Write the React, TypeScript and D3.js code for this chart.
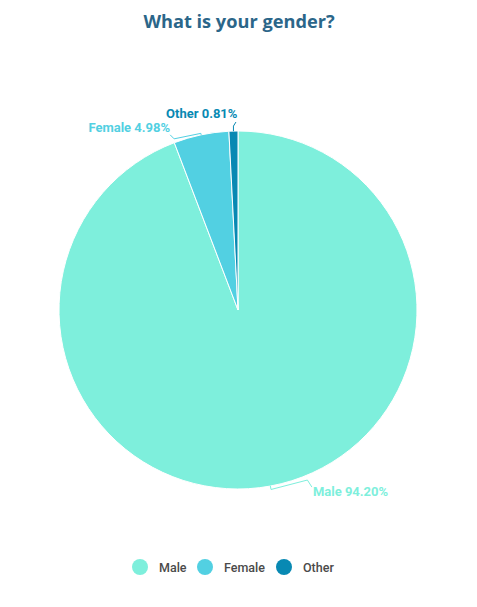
import * as d3 from 'd3';
import React from 'react';

// chart values
const categories = ['Male', 'Female', 'Other'];
const percentages = [94.2, 4.98, 0.81];
const colors = ['#7eefdc', '#52d0e2', '#0889b3'];
const title = 'What is your gender?';

const W = 477;
const H = 607;
const cx = 238;
const cy = 310;
const radius = 179;

// hand tuned connector shapes, offsets relative to the slice's edge point
const labelLayout: any = {
  Male: { out: 3.5, bend: [37, -6], tip: [41.5, 1], text: [42.5, 9.5], anchor: 'start' },
  Female: { out: 1.5, bend: [-27, 4], tip: [-31, 0], text: [-31, -2.5], anchor: 'end' },
  Other: { out: 0, bend: [0, -5], tip: [2.5, -9], text: [4, -13], anchor: 'end' },
};

const polar = (a: number, r: number) => [cx + r * Math.sin(a), cy - r * Math.cos(a)];

export default function App() {
  const data = categories.map((c, i) => ({ name: c, value: percentages[i], color: colors[i] }));
  const pie = d3
    .pie<any>()
    .sort(null)
    .value((d: any) => d.value);
  const arcs = pie(data);
  const arcGen = d3.arc<any>().innerRadius(0).outerRadius(radius);
  const line = d3.line();

  const legendX = [140, 205, 284];

  return (
    <svg
      width={W}
      height={H}
      style={{ position: 'absolute', left: 0, top: 0, background: '#fff' }}
      fontFamily="Roboto, sans-serif"
    >
      <text
        x={W / 2 + 0.5}
        y={28}
        textAnchor="middle"
        fontFamily="'Open Sans', sans-serif"
        fontWeight={700}
        fontSize={18.2}
        fill="#2b6689"
      >
        {title}
      </text>
      <g transform={`translate(${cx},${cy})`}>
        {arcs.map((a: any) => (
          <path key={a.data.name} d={arcGen(a) as string} fill={a.data.color} stroke="#fff" strokeWidth={1} />
        ))}
      </g>
      {arcs.map((a: any) => {
        const mid = (a.startAngle + a.endAngle) / 2;
        const [ex, ey] = polar(mid, radius);
        const lay = labelLayout[a.data.name];
        const [ox, oy] = polar(mid, radius + lay.out);
        const pts: [number, number][] = [
          [ex, ey],
          [ox, oy],
          [ex + lay.bend[0], ey + lay.bend[1]],
          [ex + lay.tip[0], ey + lay.tip[1]],
        ];
        return (
          <g key={a.data.name}>
            <path d={line(pts) as string} fill="none" stroke={a.data.color} strokeWidth={1} />
            <text
              x={ex + lay.text[0]}
              y={ey + lay.text[1]}
              textAnchor={lay.anchor}
              fontWeight={700}
              fontSize={13}
              fill={a.data.color}
            >
              {`${a.data.name} ${a.data.value.toFixed(2)}%`}
            </text>
          </g>
        );
      })}
      {data.map((d, i) => (
        <g key={d.name} transform={`translate(${legendX[i]},567)`}>
          <circle r={8} fill={d.color} />
          <text x={19} y={4.5} fontSize={12.5} fontWeight={500} fill="#4a4a4a">
            {d.name}
          </text>
        </g>
      ))}
    </svg>
  );
}
